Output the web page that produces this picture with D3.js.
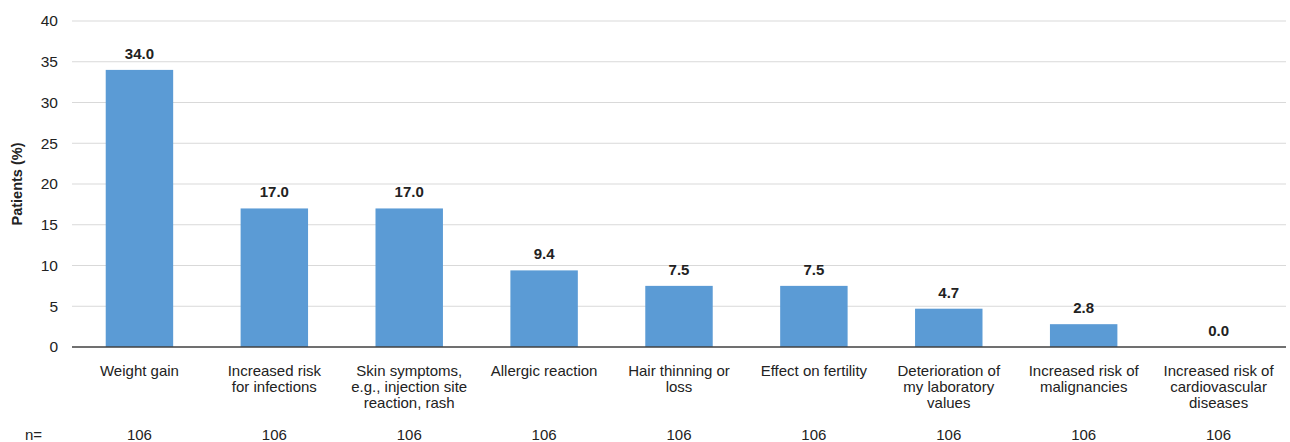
<!DOCTYPE html>
<html><head><meta charset="utf-8">
<script src="https://cdn.jsdelivr.net/npm/d3@7"></script>
<style>body{margin:0;background:#fff}svg{display:block;font-family:"Liberation Sans",Arial,sans-serif}</style>
</head><body><svg id="c" width="1290" height="442"></svg>
<script>
const categories = [
  ["Weight gain"],
  ["Increased risk","for infections"],
  ["Skin symptoms,","e.g., injection site","reaction, rash"],
  ["Allergic reaction"],
  ["Hair thinning or","loss"],
  ["Effect on fertility"],
  ["Deterioration of","my laboratory","values"],
  ["Increased risk of","malignancies"],
  ["Increased risk of","cardiovascular","diseases"]
];
const values = [34.0,17.0,17.0,9.4,7.5,7.5,4.7,2.8,0.0];
const nValues = [106,106,106,106,106,106,106,106,106];
const yTicks = [0,5,10,15,20,25,30,35,40];

const svg = d3.select("#c");
const pLeft = 72, pRight = 1286, pTop = 21, pBottom = 347;
const ids = categories.map((d,i)=>i);
const x = d3.scaleBand().domain(ids).range([pLeft,pRight]).paddingInner(0.5).paddingOuter(0.25);
const y = d3.scaleLinear().domain([0,40]).range([pBottom,pTop]);

// gridlines
svg.append("g").selectAll("line").data(yTicks.filter(t=>t>0)).join("line")
  .attr("x1",pLeft).attr("x2",pRight).attr("y1",d=>y(d)).attr("y2",d=>y(d))
  .attr("stroke","#d9d9d9").attr("stroke-width",1);

// y axis labels
const ya = svg.append("g").attr("transform",`translate(${pLeft},0)`)
  .call(d3.axisLeft(y).tickValues(yTicks).tickSize(0).tickPadding(14));
ya.select(".domain").remove();
ya.selectAll("text").attr("font-size",15.5).attr("fill","#222").attr("font-family","Liberation Sans, Arial, sans-serif");

// bars
svg.append("g").selectAll("rect").data(values).join("rect")
  .attr("x",(d,i)=>x(i)).attr("width",x.bandwidth())
  .attr("y",d=>y(d)).attr("height",d=>pBottom-y(d))
  .attr("fill","#5b9bd5");

// value labels
svg.append("g").selectAll("text").data(values).join("text")
  .attr("x",(d,i)=>x(i)+x.bandwidth()/2).attr("y",d=>y(d)-11)
  .attr("text-anchor","middle").attr("font-size",15).attr("font-weight","bold").attr("fill","#222")
  .text(d=>d.toFixed(1));

// x axis line
svg.append("line").attr("x1",pLeft).attr("x2",pRight).attr("y1",pBottom).attr("y2",pBottom)
  .attr("stroke","#404040").attr("stroke-width",1.5);

// category labels
const cl = svg.append("g").selectAll("text").data(categories).join("text")
  .attr("text-anchor","middle").attr("font-size",15).attr("fill","#222")
  .attr("transform",(d,i)=>`translate(${x(i)+x.bandwidth()/2},376)`);
cl.selectAll("tspan").data(d=>d).join("tspan")
  .attr("x",0).attr("dy",(d,j)=>j===0?0:16).text(d=>d);

// n row
svg.append("text").attr("x",25).attr("y",440).attr("font-size",15).attr("fill","#222").text("n=");
svg.append("g").selectAll("text").data(nValues).join("text")
  .attr("x",(d,i)=>x(i)+x.bandwidth()/2).attr("y",440)
  .attr("text-anchor","middle").attr("font-size",15).attr("fill","#222").text(d=>d);

// y title
svg.append("text").attr("transform",`translate(22,${(pTop+pBottom)/2}) rotate(-90)`)
  .attr("text-anchor","middle").attr("font-size",14.5).attr("font-weight","bold").attr("fill","#222")
  .text("Patients (%)");
</script></body></html>
